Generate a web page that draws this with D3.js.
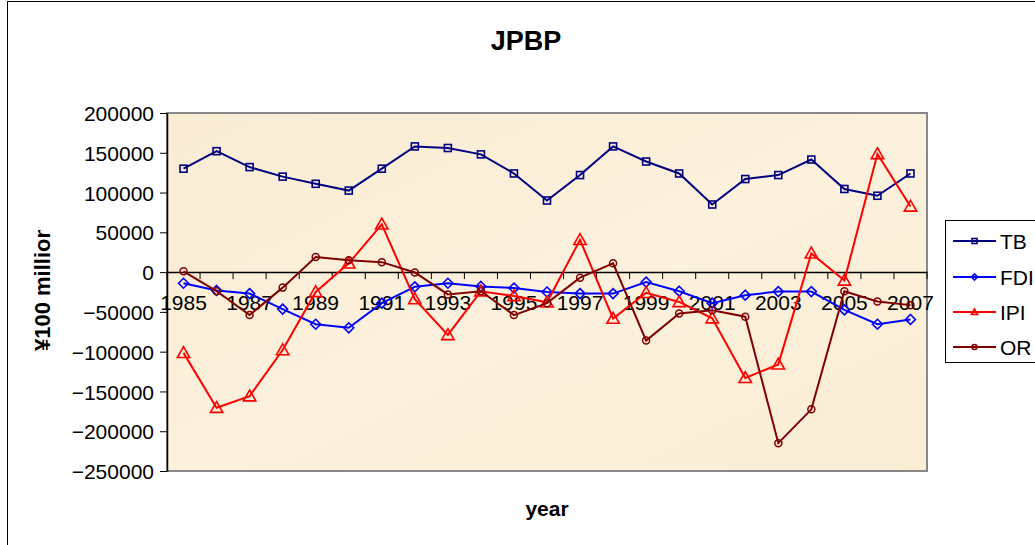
<!DOCTYPE html>
<html>
<head>
<meta charset="utf-8">
<script src="https://cdn.jsdelivr.net/npm/d3@7"></script>
<style>
  html, body { margin: 0; padding: 0; background: #fff; }
  svg { display: block; font-family: "Liberation Sans", Arial, sans-serif; }
</style>
</head>
<body>
<svg id="chart" width="1035" height="545"></svg>
<script>
const years = [1985,1986,1987,1988,1989,1990,1991,1992,1993,1994,1995,1996,1997,1998,1999,2000,2001,2002,2003,2004,2005,2006,2007];
const yearLabels = ["1985","1987","1989","1991","1993","1995","1997","1999","2001","2003","2005","2007"];
const TB  = [130000,152000,132000,120000,111000,102500,130000,158000,156000,148000,124000,90000,122000,158000,139000,124000,85000,117000,122000,141500,104500,96000,124000];
const FDI = [-14000,-23000,-27000,-46500,-65500,-70000,-39000,-18500,-14000,-18000,-20000,-25000,-27000,-27000,-12500,-24000,-39000,-29000,-24500,-24500,-47500,-65500,-59500];
const IPI = [-101500,-170500,-156000,-98000,-25000,11000,60000,-34000,-79000,-24000,-30000,-38000,40500,-58500,-26000,-37500,-58000,-133000,-116000,23500,-10500,148500,82500];
const OR  = [1000,-24000,-54000,-19500,19000,15000,12500,-500,-28000,-24000,-54000,-39000,-7000,11000,-86000,-52000,-48000,-56000,-215000,-172500,-24000,-37000,-41500];
const yTicks = [200000,150000,100000,50000,0,-50000,-100000,-150000,-200000,-250000];
const seriesNames = ["TB","FDI","IPI","OR"];
const seriesColors = ["#000080","#0000FF","#FF0000","#800000"];
const seriesMarkers = ["square","diamond","triangle","circle"];
const seriesData = [TB, FDI, IPI, OR];

const svg = d3.select("#chart");
const L = 167, R = 927, T = 113, B = 471;

// outer chart border
svg.append("rect").attr("x", 7.5).attr("y", 1.5).attr("width", 1100).attr("height", 600)
  .attr("fill", "none").attr("stroke", "#000").attr("stroke-width", 1);

const x = d3.scaleBand().domain(years).range([L, R]).paddingInner(0).paddingOuter(0);
const y = d3.scaleLinear().domain([-250000, 200000]).range([B, T]);
const cx = d => x(d) + x.bandwidth() / 2;

// plot background
const defs = svg.append("defs");
const grad = defs.append("linearGradient").attr("id", "bg").attr("x1", 0).attr("y1", 0).attr("x2", 1).attr("y2", 1);
grad.append("stop").attr("offset", "0%").attr("stop-color", "#FAECD3");
grad.append("stop").attr("offset", "50%").attr("stop-color", "#FCF1DD");
grad.append("stop").attr("offset", "100%").attr("stop-color", "#FAEDD4");
svg.append("rect").attr("x", L).attr("y", T).attr("width", R - L).attr("height", B - T)
  .attr("fill", "url(#bg)").attr("stroke", "#888").attr("stroke-width", 2);

// title
svg.append("text").attr("x", 526).attr("y", 50).attr("text-anchor", "middle")
  .attr("font-size", 27).attr("font-weight", "bold").text("JPBP");

// y axis
const yAxis = d3.axisLeft(y).tickValues(yTicks).tickSize(7).tickSizeOuter(0).tickPadding(6).tickFormat(d3.format("d"));
const yg = svg.append("g").attr("transform", `translate(${L},0)`).call(yAxis);
yg.select(".domain").attr("stroke", "#000").attr("stroke-width", 1.5);
yg.selectAll(".tick line").attr("stroke", "#000");
yg.selectAll(".tick text").attr("font-size", 21).attr("font-family", "Liberation Sans, Arial, sans-serif").attr("fill", "#000").attr("dy", "0.36em");

// x axis at zero
const xAxis = d3.axisBottom(x).tickValues([]).tickSizeOuter(0);
const xg = svg.append("g").attr("transform", `translate(0,${y(0)})`).call(xAxis);
xg.select(".domain").attr("stroke", "#000").attr("stroke-width", 1.5);
const bounds = years.map(d => x(d)).concat([R]);
xg.selectAll("line.bt").data(bounds).join("line").attr("class", "bt")
  .attr("x1", d => d).attr("x2", d => d).attr("y1", 0).attr("y2", 7).attr("stroke", "#000").attr("stroke-width", 1);
xg.selectAll("text.yl").data(yearLabels).join("text").attr("class", "yl")
  .attr("x", d => cx(+d)).attr("y", 38).attr("text-anchor", "middle")
  .attr("font-size", 21).attr("fill", "#000").text(d => d);

// y title clipped
defs.append("clipPath").attr("id", "ylc").append("rect").attr("x", 0).attr("y", 230).attr("width", 100).attr("height", 200);
svg.append("g").attr("clip-path", "url(#ylc)").append("text")
  .attr("transform", "translate(50,351) rotate(-90)").attr("text-anchor", "start")
  .attr("font-size", 22).attr("font-weight", "bold").text("¥100 million");

// x title
svg.append("text").attr("x", 547).attr("y", 516).attr("text-anchor", "middle")
  .attr("font-size", 21).attr("font-weight", "bold").text("year");

function marker(g, type, px, py, s, color) {
  if (type === "square") {
    g.append("rect").attr("x", px - s/2).attr("y", py - s/2).attr("width", s).attr("height", s)
      .attr("fill", "none").attr("stroke", color).attr("stroke-width", 1.6);
  } else if (type === "diamond") {
    const h = s * 0.62;
    g.append("path").attr("d", `M${px},${py-h}L${px+h},${py}L${px},${py+h}L${px-h},${py}Z`)
      .attr("fill", "none").attr("stroke", color).attr("stroke-width", 1.6);
  } else if (type === "triangle") {
    const h = s * 0.62;
    g.append("path").attr("d", `M${px},${py-h}L${px+h},${py+h*0.75}L${px-h},${py+h*0.75}Z`)
      .attr("fill", "none").attr("stroke", color).attr("stroke-width", 1.6);
  } else {
    g.append("circle").attr("cx", px).attr("cy", py).attr("r", s * 0.5)
      .attr("fill", "none").attr("stroke", color).attr("stroke-width", 1.5);
  }
}

const line = d3.line().x((d, i) => cx(years[i])).y(d => y(d));
const sizes = [7, 8, 10, 7];
seriesData.forEach((data, k) => {
  const g = svg.append("g");
  g.append("path").attr("d", line(data)).attr("fill", "none")
    .attr("stroke", seriesColors[k]).attr("stroke-width", 2);
  data.forEach((v, i) => marker(g, seriesMarkers[k], cx(years[i]), y(v), sizes[k], seriesColors[k]));
});

// legend
const lg = svg.append("g");
lg.append("rect").attr("x", 945.5).attr("y", 220.5).attr("width", 120).attr("height", 142)
  .attr("fill", "#fff").attr("stroke", "#000").attr("stroke-width", 1);
const ly = [241, 277, 312, 347];
seriesNames.forEach((n, k) => {
  lg.append("line").attr("x1", 953).attr("x2", 996).attr("y1", ly[k]).attr("y2", ly[k])
    .attr("stroke", seriesColors[k]).attr("stroke-width", 2);
  marker(lg, seriesMarkers[k], 974.5, ly[k], 5, seriesColors[k]);
  lg.append("text").attr("x", 1000).attr("y", ly[k] + 7.5).attr("font-size", 21).text(n);
});
</script>
</body>
</html>
